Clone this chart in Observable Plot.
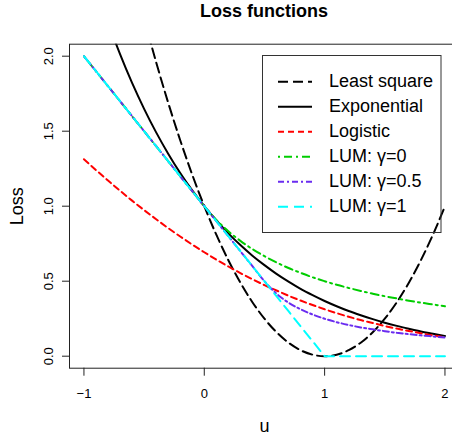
<!DOCTYPE html>
<html>
<head>
<meta charset="utf-8">
<script src="https://cdn.jsdelivr.net/npm/d3@7"></script>
<script src="https://cdn.jsdelivr.net/npm/@observablehq/plot@0.6"></script>
<style>
  html, body { margin: 0; padding: 0; background: #fff; }
  #wrap { position: relative; width: 452px; height: 438px; overflow: hidden; }
  #title { position: absolute; top: 1.8px; left: 264px; transform: translateX(-50%);
           font: bold 18px "Liberation Sans", Arial, sans-serif; line-height: 18px; white-space: nowrap; color: #000; }
</style>
</head>
<body>
<div id="wrap"><div id="title">Loss functions</div></div>
<script>
// ---- data ----
const u = [-1.0,-0.9,-0.8,-0.7,-0.6,-0.5,-0.4,-0.3,-0.2,-0.1,0.0,0.1,0.2,0.3,0.4,0.5,0.6,0.7,0.8,0.9,1.0,1.1,1.2,1.3,1.4,1.5,1.6,1.7,1.8,1.9,2.0];
const leastSquare = [4.0,3.61,3.24,2.89,2.56,2.25,1.96,1.69,1.44,1.21,1.0,0.81,0.64,0.49,0.36,0.25,0.16,0.09,0.04,0.01,0.0,0.01,0.04,0.09,0.16,0.25,0.36,0.49,0.64,0.81,1.0];
const exponential = [2.718,2.460,2.226,2.014,1.822,1.649,1.492,1.350,1.221,1.105,1.0,0.905,0.819,0.741,0.670,0.607,0.549,0.497,0.449,0.407,0.368,0.333,0.301,0.273,0.247,0.223,0.202,0.183,0.165,0.150,0.135];
const logistic = [1.313,1.241,1.171,1.103,1.037,0.974,0.913,0.854,0.798,0.744,0.693,0.644,0.598,0.554,0.513,0.474,0.438,0.403,0.371,0.341,0.313,0.287,0.263,0.241,0.221,0.201,0.184,0.168,0.153,0.139,0.127];
const lumGamma0 = [2.0,1.9,1.8,1.7,1.6,1.5,1.4,1.3,1.2,1.1,1.0,0.909,0.833,0.769,0.714,0.667,0.625,0.588,0.556,0.526,0.5,0.476,0.455,0.435,0.417,0.4,0.385,0.370,0.357,0.345,0.333];
const lumGamma05 = [2.0,1.9,1.8,1.7,1.6,1.5,1.4,1.3,1.2,1.1,1.0,0.9,0.8,0.7,0.6,0.5,0.417,0.357,0.313,0.278,0.25,0.227,0.208,0.192,0.179,0.167,0.156,0.147,0.139,0.132,0.125];
const lumGamma1 = [2.0,1.9,1.8,1.7,1.6,1.5,1.4,1.3,1.2,1.1,1.0,0.9,0.8,0.7,0.6,0.5,0.4,0.3,0.2,0.1,0.0,0,0,0,0,0,0,0,0,0,0];
const seriesNames = ["Least square","Exponential","Logistic","LUM: \u03b3=0","LUM: \u03b3=0.5","LUM: \u03b3=1"];
const xTicks = [-1, 0, 1, 2];
const xTickLabels = ["\u22121", "0", "1", "2"];
const yTicks = [0, 0.5, 1, 1.5, 2];
const yTickLabels = ["0.0", "0.5", "1.0", "1.5", "2.0"];

// ---- styles ----
const seriesValues = [leastSquare, exponential, logistic, lumGamma0, lumGamma05, lumGamma1];
const styles = [
  {stroke: "#000000", dash: "10,5", curve: "monotone-x"},
  {stroke: "#000000", dash: null, curve: "monotone-x"},
  {stroke: "#ff0000", dash: "6,4", curve: "monotone-x"},
  {stroke: "#00cd00", dash: "2,4,8,4", curve: "monotone-x"},
  {stroke: "#6a2cf0", dash: "6,3,2,3", curve: "monotone-x"},
  {stroke: "#00ffff", dash: "10,6", curve: "linear"}
];

const font = "'Liberation Sans', Arial, sans-serif";
const lineMarks = seriesValues.map((vals, i) => Plot.line(
  u.map((x, j) => ({u: x, loss: vals[j]})),
  {x: "u", y: "loss", stroke: styles[i].stroke, strokeWidth: 2,
   strokeDasharray: styles[i].dash ?? undefined, curve: styles[i].curve, clip: true}
));

const chart = Plot.plot({
  width: 452, height: 438,
  marginLeft: 69, marginRight: -6.9, marginTop: 43.7, marginBottom: 70.3,
  style: {fontFamily: font, background: "transparent", color: "#000"},
  x: {domain: [-1.12, 2.12]},
  y: {domain: [-0.08, 2.08]},
  marks: [
    ...lineMarks,
    Plot.frame({stroke: "#222", strokeWidth: 1}),
    Plot.axisX(xTicks, {tickSize: 8, tickPadding: 13, fontSize: 13, label: null, stroke: "#222",
                        tickFormat: (d, i) => xTickLabels[xTicks.indexOf(d)]}),
    Plot.axisY(yTicks, {tickSize: 7, tickFormat: () => "", label: null, stroke: "#222"}),
    Plot.text(yTicks, {y: d => d, text: (d, i) => yTickLabels[i], frameAnchor: "left", dx: -21,
                       rotate: -90, fontSize: 13, textAnchor: "middle", lineAnchor: "middle"}),
    Plot.text(["Loss"], {text: d => d, frameAnchor: "left", dx: -52, rotate: -90, fontSize: 18,
                         textAnchor: "middle", lineAnchor: "middle"}),
    Plot.text(["u"], {text: d => d, frameAnchor: "bottom", dy: 58.5, fontSize: 18,
                      textAnchor: "middle", lineAnchor: "middle"})
  ]
});

// ---- legend ----
const svg = d3.select(chart);
const lg = svg.append("g").attr("font-family", font).attr("font-size", 18).attr("text-anchor", "start");
lg.append("rect").attr("x", 262.5).attr("y", 55.5).attr("width", 178.5).attr("height", 177)
  .attr("fill", "none").attr("stroke", "#333").attr("stroke-width", 1);
seriesNames.forEach((name, i) => {
  const yy = 81.7 + 25 * i;
  lg.append("line").attr("x1", 278).attr("x2", 312).attr("y1", yy).attr("y2", yy)
    .attr("stroke", styles[i].stroke).attr("stroke-width", 2)
    .attr("stroke-dasharray", styles[i].dash);
  lg.append("text").attr("x", 329).attr("y", yy).attr("dy", "0.32em")
    .attr("text-anchor", "start").attr("fill", "#000").text(name);
});

document.getElementById("wrap").appendChild(chart);
chart.style.position = "absolute";
chart.style.left = "0";
chart.style.top = "0";
</script>
</body>
</html>
